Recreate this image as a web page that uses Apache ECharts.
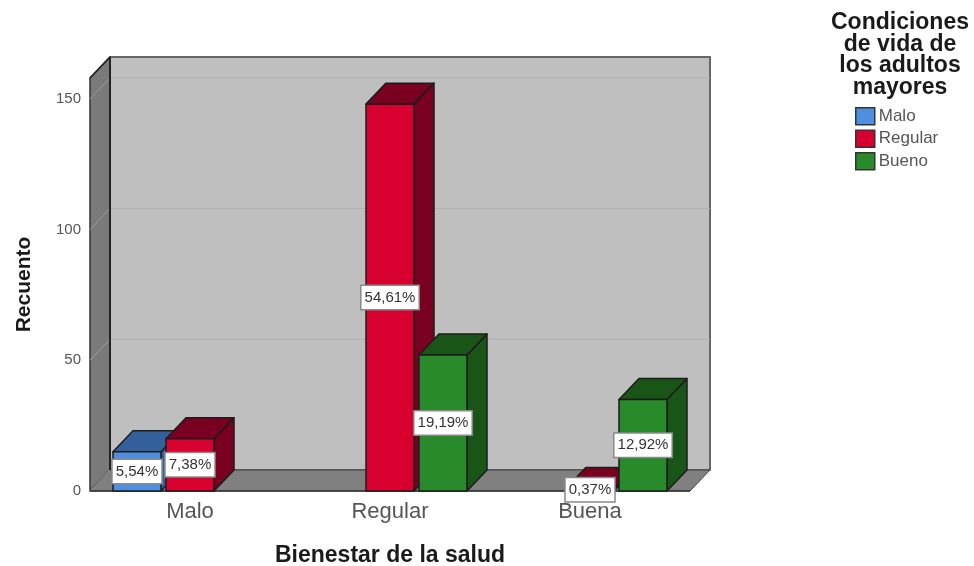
<!DOCTYPE html>
<html>
<head>
<meta charset="utf-8">
<title>Bienestar de la salud</title>
<script src="https://cdn.jsdelivr.net/npm/echarts@6/dist/echarts.min.js"></script>
<style>
  html, body { margin: 0; padding: 0; background: #fff; }
  #chart { width: 974px; height: 566px; }
</style>
</head>
<body>
<div id="chart"></div>
<script>
const categories = ['Malo', 'Regular', 'Buena']
const yTicks = [0, 50, 100, 150]

const maloValues = [15, null, null]
const regularValues = [20, 148, 1]
const buenoValues = [null, 52, 35]

const maloLabels = ['5,54%', null, null]
const regularLabels = ['7,38%', '54,61%', '0,37%']
const buenoLabels = [null, '19,19%', '12,92%']

const FONT = '"Liberation Sans", Arial, sans-serif'
// fake 3d depth of the box, in pixels
const DEPTH_X = 20
const DEPTH_Y = -21
const BAR_WIDTH = 0.24

const poly = (points, fill, stroke, lineWidth) => ({
  type: 'polygon',
  shape: { points },
  style: { fill, stroke: stroke || '#1c1c1c', lineWidth: lineWidth || 1.5, lineJoin: 'round' }
})

const line = (x1, y1, x2, y2, stroke, lineWidth) => ({
  type: 'line',
  shape: { x1, y1, x2, y2 },
  style: { stroke, lineWidth: lineWidth || 1 }
})

const renderWalls = (params, api) => {
  const { x, y, width, height } = params.coordSys
  const bottom = y + height
  const right = x + width
  const children = [
    poly([[x + DEPTH_X, y + DEPTH_Y], [right + DEPTH_X, y + DEPTH_Y], [right + DEPTH_X, bottom + DEPTH_Y], [x + DEPTH_X, bottom + DEPTH_Y]], '#bfbfbf', '#666666', 2),
    poly([[x, y], [x + DEPTH_X, y + DEPTH_Y], [x + DEPTH_X, bottom + DEPTH_Y], [x, bottom]], '#7a7a7a', '#333333', 1.5),
    poly([[x, bottom], [x + DEPTH_X, bottom + DEPTH_Y], [right + DEPTH_X, bottom + DEPTH_Y], [right, bottom]], '#808080', '#444444', 1)
  ]
  yTicks.forEach((tick) => {
    const ty = api.coord([0, tick])[1]
    children.push(line(x, ty, x + DEPTH_X, ty + DEPTH_Y, '#9c9c9c'))
    if (tick > 0) children.push(line(x + DEPTH_X, ty + DEPTH_Y, right + DEPTH_X, ty + DEPTH_Y, '#b1b1b1'))
  })
  children.push(line(x + DEPTH_X, y + DEPTH_Y, x + DEPTH_X, bottom + DEPTH_Y, '#222222', 2))
  children.push(line(x, y, x + DEPTH_X, y + DEPTH_Y, '#222222', 1.5))
  children.push(line(x, bottom, right, bottom, '#333333', 1.5))
  return { type: 'group', children }
}

const renderBar = (offset, front, shade, labels) => (params, api) => {
  const value = api.value(1)
  if (value == null || isNaN(value)) return null
  const band = api.size([1, 0])[0]
  const base = api.coord([api.value(0), 0])
  const top = api.coord([api.value(0), value])[1]
  const x0 = base[0] + offset * band
  const x1 = x0 + BAR_WIDTH * band
  const y0 = base[1]
  return {
    type: 'group',
    children: [
      poly([[x1, top], [x1 + DEPTH_X, top + DEPTH_Y], [x1 + DEPTH_X, y0 + DEPTH_Y], [x1, y0]], shade),
      poly([[x0, top], [x0 + DEPTH_X, top + DEPTH_Y], [x1 + DEPTH_X, top + DEPTH_Y], [x1, top]], shade),
      poly([[x0, top], [x1, top], [x1, y0], [x0, y0]], front),
      {
        type: 'text',
        z2: 100,
        style: {
          x: (x0 + x1) / 2,
          y: (top + y0) / 2,
          text: labels[params.dataIndex],
          align: 'center',
          verticalAlign: 'middle',
          font: '15px ' + FONT,
          fill: '#333333',
          backgroundColor: '#ffffff',
          borderColor: '#8a8a8a',
          borderWidth: 1.5,
          padding: [4, 3, 4, 3]
        }
      }
    ]
  }
}

const barSeries = (name, values, offset, front, shade, labels) => ({
  name,
  type: 'custom',
  z: 2,
  clip: false,
  itemStyle: { color: front },
  renderItem: renderBar(offset, front, shade, labels),
  encode: { x: 0, y: 1 },
  data: values.map((v, i) => [i, v])
})

const chart = echarts.init(document.getElementById('chart'))

chart.setOption({
  backgroundColor: '#ffffff',
  animation: false,
  textStyle: { fontFamily: FONT },
  title: {
    text: 'Condiciones\nde vida de\nlos adultos\nmayores',
    left: 900,
    top: 12,
    textAlign: 'center',
    padding: 0,
    textStyle: { fontFamily: FONT, fontSize: 23, fontWeight: 'bold', color: '#1a1a1a', lineHeight: 21.5 }
  },
  legend: {
    orient: 'vertical',
    left: 855,
    top: 107,
    padding: 0,
    itemWidth: 19,
    itemHeight: 17,
    itemGap: 4,
    selectedMode: false,
    data: [
      { name: 'Malo', icon: 'rect' },
      { name: 'Regular', icon: 'rect' },
      { name: 'Bueno', icon: 'rect' }
    ],
    itemStyle: { borderColor: '#333333', borderWidth: 1.5 },
    textStyle: { fontFamily: FONT, fontSize: 17, lineHeight: 17, color: '#555555', padding: [0, 0, 0, -1] }
  },
  grid: { left: 90, right: 284, top: 78, bottom: 75, outerBoundsMode: 'none' },
  xAxis: {
    type: 'category',
    data: categories,
    name: 'Bienestar de la salud',
    nameLocation: 'middle',
    nameGap: 53,
    nameTextStyle: { fontFamily: FONT, fontSize: 23, fontWeight: 'bold', color: '#1a1a1a' },
    axisLine: { show: false },
    axisTick: { show: false },
    axisLabel: { fontFamily: FONT, fontSize: 22, color: '#555555', margin: 10 }
  },
  yAxis: {
    type: 'value',
    min: 0,
    max: 158,
    interval: 50,
    name: 'Recuento',
    nameLocation: 'middle',
    nameGap: 55,
    nameTextStyle: { fontFamily: FONT, fontSize: 21, fontWeight: 'bold', color: '#1a1a1a' },
    axisLine: { show: false },
    axisTick: { show: false },
    splitLine: { show: false },
    axisLabel: { fontFamily: FONT, fontSize: 15, color: '#555555', margin: 9, showMaxLabel: false }
  },
  series: [
    {
      type: 'custom',
      z: 1,
      clip: false,
      silent: true,
      renderItem: renderWalls,
      encode: { x: 0, y: 1 },
      data: [[0, 0]]
    },
    barSeries('Malo', maloValues, -0.385, '#4f8fe0', '#33609a', maloLabels),
    barSeries('Regular', regularValues, -0.12, '#d8002e', '#7a0022', regularLabels),
    barSeries('Bueno', buenoValues, 0.145, '#298a2c', '#1a5518', buenoLabels)
  ]
})

window.addEventListener('resize', () => chart.resize())
</script>
</body>
</html>
